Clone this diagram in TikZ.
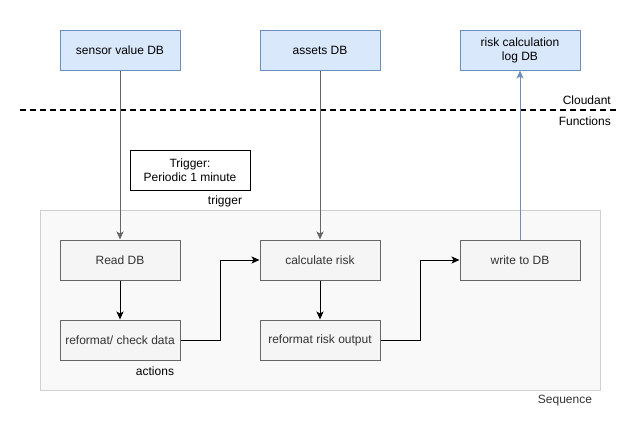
\documentclass[tikz,border=0pt]{standalone}
\usepackage{fontspec}
\setmainfont{Liberation Sans}
\usetikzlibrary{arrows.meta}
\definecolor{bluefill}{HTML}{DAE8FC}
\definecolor{bluedraw}{HTML}{6C8EBF}
\definecolor{grayfill}{HTML}{F5F5F5}
\definecolor{graydraw}{HTML}{666666}
\definecolor{graytext}{HTML}{333333}
\definecolor{seqfill}{HTML}{F9F9F9}
\definecolor{seqdraw}{HTML}{D0D0D0}
\tikzset{
  base/.style={rectangle, minimum width=120pt, minimum height=40pt, inner sep=0pt, align=center, font=\fontsize{12}{14}\selectfont},
  bluebox/.style={base, fill=bluefill, draw=bluedraw, line width=1pt},
  graybox/.style={base, fill=grayfill, draw=graydraw, text=graytext, line width=1pt},
  trigbox/.style={base, fill=white, draw=black, line width=1pt},
  seqbox/.style={rectangle, fill=seqfill, draw=seqdraw, line width=1pt, inner sep=0pt},
  lbl/.style={inner sep=0pt, font=\fontsize{12}{14}\selectfont},
  tip/.style={-{Stealth[length=8pt,width=7pt,inset=2pt]}},
  grayarrow/.style={tip, draw=graydraw, fill=graydraw, line width=1pt},
  blackarrow/.style={tip, draw=black, line width=1pt},
  bluearrow/.style={tip, draw=bluedraw, line width=1pt},
}
\begin{document}
\begin{tikzpicture}[x=1pt,y=-1pt]
\useasboundingbox (0,0) rectangle (641,421);
\node[seqbox, minimum width=560pt, minimum height=180pt] (seq) at (320.5,300) {};
\node[bluebox] (svdb) at (120,50) {sensor value DB};
\node[bluebox] (adb) at (320,50) {assets DB};
\node[bluebox] (rdb) at (520,50) {risk calculation\\log DB};
\coordinate (dl) at (20,110);
\coordinate (dr) at (616,110);
\draw[line width=2pt, dash pattern=on 6pt off 4pt] (dl) -- (dr);
\node[lbl, anchor=east] (cloud) at (611,100) {Cloudant};
\node[lbl, anchor=east] (func) at (611,121) {Functions};
\node[trigbox] (trig) at (190,170) {Trigger:\\Periodic 1 minute};
\node[lbl] (trigl) at (225,201) {trigger};
\node[graybox] (read) at (120,260) {Read DB};
\node[graybox] (check) at (120,340) {reformat/ check data};
\node[graybox] (calc) at (320,260) {calculate risk};
\node[graybox] (rout) at (320,340) {reformat risk output};
\node[graybox] (write) at (520,260) {write to DB};
\node[lbl] (act) at (155,371) {actions};
\node[lbl, text=graytext] (seql) at (565,401) {Sequence};
\draw[grayarrow] (svdb.south) -- (read.north);
\draw[grayarrow] (adb.south) -- (calc.north);
\draw[bluearrow] (write.north) -- (rdb.south);
\draw[blackarrow] (read.south) -- (check.north);
\draw[blackarrow] (calc.south) -- (rout.north);
\draw[blackarrow] (check.east) -- ++(40,0) |- (calc.west);
\draw[blackarrow] (rout.east) -- ++(40,0) |- (write.west);
\end{tikzpicture}
\end{document}
